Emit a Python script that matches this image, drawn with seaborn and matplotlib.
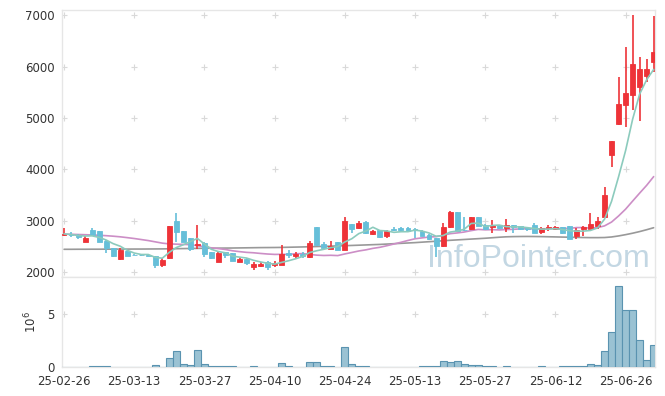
import matplotlib
matplotlib.use("Agg")
import matplotlib.pyplot as plt
import seaborn as sns
import numpy as np
import pandas as pd

# 일봉 데이터
opens = [2730, 2745, 2725, 2595, 2829, 2800, 2615, 2465, 2250, 2410,
         2340, 2335, 2330, 2315, 2145, 2270, 3000, 2800, 2665, 2525,
         2575, 2385, 2205, 2390, 2370, 2205, 2265, 2110, 2120, 2190,
         2140, 2145, 2380, 2320, 2350, 2295, 2875, 2545, 2455, 2580,
         2440, 2940, 2855, 2985, 2740, 2820, 2710, 2845, 2865, 2850,
         2840, 2810, 2730, 2660, 2500, 2870, 3170, 2830, 2840, 3075,
         2910, 2880, 2920, 2855, 2915, 2895, 2865, 2920, 2785, 2855,
         2840, 2870, 2900, 2705, 2835, 2845, 2900, 3080, 4270, 4890,
         5255, 5450, 5595, 5825, 6095]
highs = [2860, 2778, 2740, 2712, 2860, 2805, 2620, 2470, 2470, 2420,
         2345, 2340, 2335, 2320, 2275, 2900, 3150, 2810, 2670, 2920,
         2580, 2390, 2385, 2395, 2375, 2270, 2270, 2205, 2200, 2210,
         2220, 2530, 2430, 2390, 2385, 2615, 2880, 2580, 2600, 2590,
         3080, 2945, 3005, 2995, 2830, 2825, 2820, 2875, 2875, 2870,
         2860, 2815, 2740, 2670, 2950, 3195, 3175, 3080, 3080, 3080,
         2930, 3010, 2925, 3035, 2925, 2900, 2875, 2960, 2870, 2910,
         2890, 2880, 2905, 2850, 2890, 3150, 3080, 3650, 4560, 5805,
         6375, 7000, 6195, 6140, 6990]
lows = [2700, 2692, 2642, 2590, 2700, 2590, 2370, 2290, 2245, 2315,
        2325, 2320, 2315, 2080, 2095, 2260, 2580, 2590, 2410, 2460,
        2305, 2265, 2200, 2270, 2215, 2200, 2140, 2045, 2110, 2040,
        2110, 2140, 2280, 2280, 2285, 2280, 2500, 2450, 2450, 2430,
        2435, 2760, 2840, 2750, 2720, 2670, 2660, 2800, 2800, 2790,
        2670, 2700, 2630, 2305, 2495, 2850, 2800, 2800, 2830, 2895,
        2830, 2760, 2845, 2780, 2770, 2830, 2810, 2760, 2740, 2810,
        2835, 2750, 2640, 2640, 2700, 2840, 2840, 3070, 4040, 4865,
        4820, 5160, 4935, 5695, 5900]
closes = [2745, 2720, 2675, 2673, 2720, 2595, 2467, 2320, 2425, 2320,
          2330, 2325, 2320, 2145, 2240, 2900, 2790, 2595, 2445, 2550,
          2360, 2270, 2380, 2325, 2225, 2265, 2180, 2160, 2165, 2095,
          2180, 2350, 2325, 2355, 2320, 2565, 2520, 2465, 2515, 2435,
          3000, 2840, 2965, 2760, 2805, 2680, 2800, 2830, 2820, 2810,
          2830, 2710, 2645, 2500, 2875, 3170, 2810, 2815, 3070, 2905,
          2840, 2915, 2850, 2920, 2880, 2840, 2840, 2770, 2860, 2880,
          2880, 2760, 2650, 2820, 2885, 2945, 3005, 3500, 4555, 5275,
          5490, 6050, 5950, 5950, 6280]
volumes = [10e3, 10e3, 10e3, 10e3, 60e3, 60e3, 60e3, 10e3, 10e3, 10e3,
           5e3, 5e3, 5e3, 160e3, 20e3, 890e3, 1560e3, 320e3, 220e3, 1650e3,
           250e3, 60e3, 60e3, 60e3, 60e3, 10e3, 10e3, 60e3, 10e3, 10e3,
           10e3, 420e3, 60e3, 10e3, 10e3, 500e3, 500e3, 60e3, 60e3, 10e3,
           1940e3, 320e3, 130e3, 130e3, 10e3, 10e3, 10e3, 10e3, 10e3, 10e3,
           10e3, 50e3, 50e3, 50e3, 540e3, 450e3, 540e3, 250e3, 170e3, 170e3,
           70e3, 70e3, 10e3, 50e3, 10e3, 10e3, 10e3, 10e3, 50e3, 10e3,
           10e3, 60e3, 60e3, 60e3, 60e3, 320e3, 170e3, 1560e3, 3360e3, 7660e3,
           5450e3, 5450e3, 2600e3, 700e3, 2130e3]

# 20일선 앞부분 (이전 데이터가 없어 그림에서 읽음)
ma20_head = [2740, 2737, 2733, 2729, 2724, 2718, 2710, 2700, 2688, 2672,
             2655, 2635, 2615, 2590, 2565, 2550, 2545, 2540, 2535]
# 60일선
ma60 = [2445, 2445, 2446, 2446, 2447, 2447, 2448, 2448, 2449, 2449,
        2450, 2450, 2451, 2452, 2453, 2455, 2457, 2459, 2461, 2463,
        2465, 2466, 2468, 2469, 2470, 2472, 2474, 2476, 2478, 2479,
        2480, 2482, 2485, 2488, 2491, 2495, 2499, 2503, 2507, 2511,
        2515, 2520, 2525, 2530, 2535, 2540, 2547, 2554, 2561, 2568,
        2575, 2584, 2593, 2602, 2611, 2620, 2628, 2636, 2644, 2652,
        2660, 2670, 2680, 2688, 2692, 2694, 2695, 2694, 2692, 2689,
        2686, 2683, 2680, 2677, 2674, 2672, 2672, 2674, 2685, 2705,
        2730, 2758, 2790, 2826, 2865]

tick_labels = ['25-02-26', '25-03-13', '25-03-27', '25-04-10', '25-04-24',
               '25-05-13', '25-05-27', '25-06-12', '25-06-26']

df = pd.DataFrame({'o': opens, 'h': highs, 'l': lows, 'c': closes, 'v': volumes})
df['x'] = np.arange(len(df))
df['ma5'] = df['c'].rolling(5, min_periods=1).mean()
ma20 = df['c'].rolling(20).mean()
ma20[:len(ma20_head)] = ma20_head
df['ma20'] = ma20
df['ma60'] = ma60

sns.set_style("white")
plt.rcParams['font.family'] = ['DejaVu Sans']

UP = '#ee3338'
DOWN = '#66bfd9'
GRID = '#d9d9d9'
SPINE = '#e6e6e6'

fig = plt.figure(figsize=(6.65, 3.96), dpi=100)
ax = fig.add_axes([0.0925, 0.2997, 0.8932, 0.675])
ax2 = fig.add_axes([0.0925, 0.0732, 0.8932, 0.2265], sharex=ax)

# 캔들
up = df['c'] >= df['o']
colors = np.where(up, UP, DOWN)
ax.vlines(df['x'], df['l'], df['h'], colors=colors, linewidth=1.2, zorder=3)
body_lo = np.minimum(df['o'], df['c'])
body_h = np.abs(df['c'] - df['o'])
ax.bar(df['x'], body_h, bottom=body_lo, width=0.7, color=colors,
       edgecolor=colors, linewidth=0.6, zorder=4)

# 이동평균선
sns.lineplot(data=df, x='x', y='ma60', ax=ax, color='#999999', linewidth=1.2, zorder=2)
sns.lineplot(data=df, x='x', y='ma20', ax=ax, color='#cc8ec6', linewidth=1.2, zorder=2)
sns.lineplot(data=df, x='x', y='ma5', ax=ax, color='#8ccbbd', linewidth=1.2, zorder=5)

ax.text(0.803, 0.037, 'InfoPointer.com', transform=ax.transAxes, ha='center',
        va='baseline', fontsize=23, color='#c3d7e3', family='Liberation Sans',
        zorder=1)

# 거래량
ax2.bar(df['x'], df['v'] / 1e6, width=1.0, color='#9ac2d3',
        edgecolor='#5a93b0', linewidth=0.8, zorder=3)

xt = np.arange(0, 81, 10)
ax.set_xlim(-0.356, 84.26)
ax.set_ylim(1900, 7100)
ax2.set_ylim(0, 8.51)
ax.set_yticks([2000, 3000, 4000, 5000, 6000, 7000])
ax2.set_yticks([0, 5])
ax2.set_xticks(xt)
ax2.set_xticklabels(tick_labels)

# 격자 대신 + 표시
for a, yt in ((ax, [2000, 3000, 4000, 5000, 6000, 7000]), (ax2, [5])):
    gx, gy = np.meshgrid(xt, yt)
    a.plot(gx.ravel(), gy.ravel(), linestyle='none', marker='+', markersize=4,
           markeredgewidth=0.8, color=GRID, zorder=0)

for a in (ax, ax2):
    a.set_xlabel('')
    a.set_ylabel('')
    for s in a.spines.values():
        s.set_color(SPINE)
        s.set_linewidth(1.0)
    a.tick_params(length=0, labelsize=8.5, labelcolor='#333333', pad=5)
ax.tick_params(labelbottom=False)
ax2.tick_params(axis='x', pad=6)
ax2.set_ylabel(r'$10^6$', fontsize=8.5, color='#333333', labelpad=6)

fig.savefig('out.png', dpi=100)
